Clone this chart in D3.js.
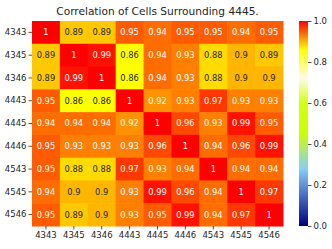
<!DOCTYPE html>
<html>
<head>
<meta charset="utf-8">
<script src="https://cdn.jsdelivr.net/npm/d3@7"></script>
<style>
  body { margin: 0; background: #fff; }
  text { font-family: "DejaVu Sans", sans-serif; }
</style>
</head>
<body>
<div id="viz"></div>
<script>
// cells
var cells = ['4343', '4345', '4346', '4443', '4445', '4446', '4543', '4545', '4546'];
var corr = [
  [1, 0.89, 0.89, 0.95, 0.94, 0.95, 0.95, 0.94, 0.95],
  [0.89, 1, 0.99, 0.86, 0.94, 0.93, 0.88, 0.9, 0.89],
  [0.89, 0.99, 1, 0.86, 0.94, 0.93, 0.88, 0.9, 0.9],
  [0.95, 0.86, 0.86, 1, 0.92, 0.93, 0.97, 0.93, 0.93],
  [0.94, 0.94, 0.94, 0.92, 1, 0.96, 0.93, 0.99, 0.95],
  [0.95, 0.93, 0.93, 0.93, 0.96, 1, 0.94, 0.96, 0.99],
  [0.95, 0.88, 0.88, 0.97, 0.93, 0.94, 1, 0.94, 0.94],
  [0.94, 0.9, 0.9, 0.93, 0.99, 0.96, 0.94, 1, 0.97],
  [0.95, 0.89, 0.9, 0.93, 0.95, 0.99, 0.94, 0.97, 1]
];
var cbarTicks = [0, 0.2, 0.4, 0.6, 0.8, 1.0];

var width = 332, height = 249;
// note: "top" is taken by window.top, so use m* names
var mLeft = 32, mRight = 283, mTop = 21, mBottom = 226;

var svg = d3.select('#viz')
  .append('svg')
  .attr('width', width)
  .attr('height', height);

var x = d3.scaleBand().domain(cells).range([mLeft, mRight]);
var y = d3.scaleBand().domain(cells).range([mTop, mBottom]);

// colormap guessed from the colour bar
var color = d3.scaleLinear()
  .domain([0, 0.28, 0.45, 0.6, 0.72, 0.86, 1])
  .range(['#000080', '#87cefa', '#ccff00', '#d4ff10', '#fffbe6', '#ffff00', '#ff0000'])
  .clamp(true);

var flat = [];
corr.forEach(function(row, i) {
  row.forEach(function(v, j) { flat.push({r: cells[i], c: cells[j], v: v}); });
});

svg.append('g')
  .selectAll('rect')
  .data(flat)
  .enter()
  .append('rect')
  .attr('x', function(d) { return x(d.c); })
  .attr('y', function(d) { return y(d.r); })
  .attr('width', x.bandwidth() + 0.5)
  .attr('height', y.bandwidth() + 0.5)
  .attr('fill', function(d) { return color(d.v); });

svg.append('g')
  .selectAll('text')
  .data(flat)
  .enter()
  .append('text')
  .text(function(d) { return d.v === 1 ? '1' : String(d.v); })
  .attr('x', function(d) { return x(d.c) + x.bandwidth() / 2; })
  .attr('y', function(d) { return y(d.r) + y.bandwidth() / 2; })
  .attr('dy', '0.35em')
  .attr('text-anchor', 'middle')
  .attr('font-size', '8.3px')
  .attr('fill', function(d) { return d.v >= 0.915 ? '#ffffff' : '#262626'; });

// axes
var xAxis = svg.append('g')
  .attr('transform', 'translate(0,' + mBottom + ')')
  .call(d3.axisBottom(x).tickSize(3.5).tickPadding(2.5));
var yAxis = svg.append('g')
  .attr('transform', 'translate(' + mLeft + ',0)')
  .call(d3.axisLeft(y).tickSize(3.5).tickPadding(2));
[xAxis, yAxis].forEach(function(a) {
  a.select('.domain').remove();
  a.selectAll('text').attr('font-size', '8.5px').attr('fill', '#262626').style('font-family', '"DejaVu Sans", sans-serif');
  a.selectAll('line').attr('stroke', '#262626').attr('stroke-width', 0.8);
});

// colour bar
var cbX = 299, cbW = 9;
var cy = d3.scaleLinear().domain([0, 1]).range([mBottom, mTop]);
var defs = svg.append('defs');
var grad = defs.append('linearGradient')
  .attr('id', 'cbar')
  .attr('x1', 0).attr('y1', 1).attr('x2', 0).attr('y2', 0);
grad.selectAll('stop')
  .data(d3.range(0, 1.0001, 0.02))
  .enter()
  .append('stop')
  .attr('offset', function(d) { return d; })
  .attr('stop-color', function(d) { return color(d); });

svg.append('rect')
  .attr('x', cbX)
  .attr('y', mTop)
  .attr('width', cbW)
  .attr('height', mBottom - mTop)
  .attr('fill', 'url(#cbar)');

var cAxis = svg.append('g')
  .attr('transform', 'translate(' + (cbX + cbW) + ',0)')
  .call(d3.axisRight(cy).tickValues(cbarTicks).tickFormat(d3.format('.1f')).tickSize(3.5).tickPadding(2));
cAxis.select('.domain').remove();
cAxis.selectAll('text').attr('font-size', '8.5px').attr('fill', '#262626').style('font-family', '"DejaVu Sans", sans-serif');
cAxis.selectAll('line').attr('stroke', '#262626').attr('stroke-width', 0.8);

// title
svg.append('text')
  .text('Correlation of Cells Surrounding 4445.')
  .attr('x', (mLeft + mRight) / 2)
  .attr('y', 15)
  .attr('text-anchor', 'middle')
  .attr('font-size', '10.6px')
  .attr('fill', '#262626');
</script>
</body>
</html>
